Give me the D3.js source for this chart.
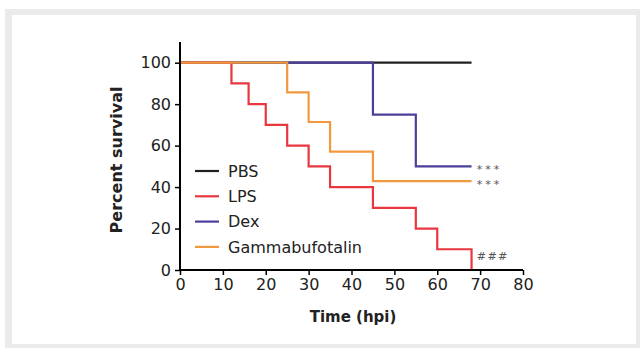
<!DOCTYPE html>
<html><head><meta charset="utf-8">
<script src="https://cdn.jsdelivr.net/npm/d3@7"></script>
<style>body{margin:0;background:#fff}svg{display:block}text{font-family:"DejaVu Sans",sans-serif}</style>
</head><body><svg id="c" width="640" height="348"></svg>
<script>
const seriesNames = ["PBS","LPS","Dex","Gammabufotalin"];
const seriesColors = ["#231f20","#e8373f","#4b3f9a","#f0993e"];
// step points [time, survival]
const pbs = [[0,100],[68,100]];
const lps = [[0,100],[12,90],[16,80],[20,70],[25,60],[30,50],[35,40],[45,30],[55,20],[60,10],[68,0]];
const dex = [[0,100],[45,75],[55,50],[68,50]];
const gamma = [[0,100],[25,85.7],[30,71.4],[35,57.1],[45,42.9],[68,42.9]];
const xTicks = [0,10,20,30,40,50,60,70,80];
const yTicks = [0,20,40,60,80,100];
const annotations = [["***",50],["***",42.9],["###",6.7]];

const svg = d3.select("#c");
svg.append("rect").attr("x",5).attr("y",9).attr("width",635).attr("height",339).attr("fill","#ebebeb");
svg.append("rect").attr("x",12).attr("y",15).attr("width",624).attr("height",329).attr("fill","#fff");

const x = d3.scaleLinear().domain([0,80]).range([180,523]);
const y = d3.scaleLinear().domain([0,100]).range([270,62.7]);

const line = d3.line().x(d=>x(d[0])).y(d=>y(d[1])).curve(d3.curveStepAfter);
const all = [pbs,lps,dex,gamma];
const order = [0,2,1,3];
order.forEach(i=>{
  svg.append("path").attr("d",line(all[i])).attr("fill","none")
    .attr("stroke",seriesColors[i]).attr("stroke-width",2.2);
});
const ax = svg.append("g").attr("transform","translate(0,270)")
  .call(d3.axisBottom(x).tickValues(xTicks).tickSize(5).tickFormat(d3.format("d")));
const ay = svg.append("g").attr("transform","translate(180,0)")
  .call(d3.axisLeft(y).tickValues(yTicks).tickSize(5).tickFormat(d3.format("d")));
[ax,ay].forEach(a=>{
  a.select(".domain").attr("stroke","#000").attr("stroke-width",2);
  a.selectAll(".tick line").attr("stroke","#000").attr("stroke-width",1.5);
  a.selectAll(".tick text").attr("fill","#222").style("font-size","16px").style("font-family","DejaVu Sans, sans-serif");
});
ay.select(".domain").attr("d","M0,42V270");
ax.select(".domain").attr("d","M180,0H523");
ax.selectAll(".tick text").attr("dy","0.78em");
ay.selectAll(".tick text").attr("dx","-1px");

svg.append("text").attr("x",353).attr("y",322).attr("text-anchor","middle")
  .style("font-size","15px").style("font-weight","bold").attr("fill","#222").text("Time (hpi)");
svg.append("text").attr("transform","translate(122,160) rotate(-90)").attr("text-anchor","middle")
  .style("font-size","16px").style("font-weight","bold").attr("fill","#222").text("Percent survival");

const lg = svg.append("g");
seriesNames.forEach((n,i)=>{
  const yy = 171 + i*25.3;
  lg.append("line").attr("x1",195).attr("x2",219).attr("y1",yy).attr("y2",yy)
    .attr("stroke",seriesColors[i]).attr("stroke-width",2.2);
  lg.append("text").attr("x",228).attr("y",yy).attr("dy","0.36em")
    .style("font-size","16px").attr("fill","#222").text(n);
});

annotations.forEach(a=>{
  const star = a[0]==="***";
  svg.append("text").attr("x",x(69.2)).attr("y",y(a[1])).attr("dy", star?"0.6em":"0.36em")
    .style("font-size", "11px").style("letter-spacing", star?"3px":"1.5px")
    .attr("fill","#555").text(a[0]);
});
</script></body></html>
